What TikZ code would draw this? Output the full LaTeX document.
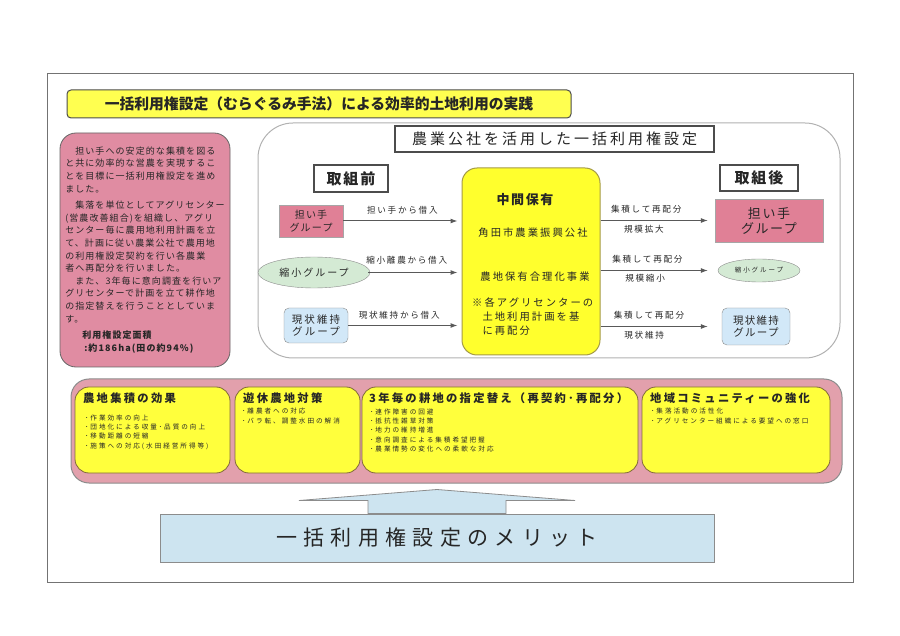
\documentclass[tikz,border=0pt]{standalone}
\usepackage{fontspec}
\setmainfont{Noto Sans CJK JP}
\newfontfamily\spA[LetterSpace=12]{Noto Sans CJK JP}
\newfontfamily\spB[LetterSpace=20]{Noto Sans CJK JP}
\newfontfamily\spC[LetterSpace=30]{Noto Sans CJK JP}
\usetikzlibrary{positioning,arrows.meta,shapes.geometric}

\definecolor{titleyel}{RGB}{255,255,80}
\definecolor{memopink}{RGB}{224,140,162}
\definecolor{hubyel}{RGB}{255,255,45}
\definecolor{hubline}{RGB}{165,155,70}
\definecolor{grppink}{RGB}{224,128,150}
\definecolor{grpgreen}{RGB}{212,234,212}
\definecolor{grpblue}{RGB}{210,232,248}
\definecolor{bandpink}{RGB}{226,160,172}
\definecolor{effyel}{RGB}{255,255,60}
\definecolor{effline}{RGB}{130,105,60}
\definecolor{meritblue}{RGB}{205,228,240}

\begin{document}
\begin{tikzpicture}[x=1pt,y=-1pt,text=black!85,
        frame/.style={draw=black!55, line width=0.8pt},
        titlebox/.style={draw=black!70, fill=titleyel, rounded corners=4pt, line width=1pt, inner sep=0pt, font=\bfseries\fontsize{14.8}{16}\selectfont},
        memo/.style={draw=black!60, fill=memopink, rounded corners=16pt, line width=0.8pt, inner sep=0pt, align=left, font=\spA\fontsize{9}{12.6}\selectfont},
        panel/.style={draw=black!30, fill=white, rounded corners=35pt, line width=1pt},
        headbox/.style={draw=black!70, fill=white, line width=2.2pt, inner sep=0pt},
        hubbox/.style={draw=hubline, fill=hubyel, rounded corners=15pt, line width=1pt},
        hubtxt/.style={font=\spB\fontsize{10.3}{13.7}\selectfont, align=left, inner sep=0pt},
        pinkgrp/.style={draw=black!35, fill=grppink, align=center, inner sep=0pt},
        greengrp/.style={ellipse, draw=black!45, fill=grpgreen, inner sep=0pt},
        bluegrp/.style={draw=black!45, fill=grpblue, rounded corners=5pt, align=center, inner sep=0pt},
        flow/.style={-{Latex[length=7pt,width=5pt]}, draw=black!65, line width=1pt},
        lbl/.style={font=\spB\fontsize{8.6}{10}\selectfont, inner sep=0pt},
        band/.style={draw=black!45, fill=bandpink, rounded corners=18pt, line width=1pt},
        effbox/.style={draw=effline, fill=effyel, rounded corners=14pt, line width=0.8pt},
        effhead/.style={anchor=west, inner sep=0pt, font=\spB\bfseries\fontsize{11.3}{13}\selectfont},
        effitem/.style={anchor=north west, inner sep=0pt, align=left, font=\spC\fontsize{6.6}{9.3}\selectfont},
        merit/.style={draw=black!45, fill=meritblue, line width=1pt, inner sep=0pt, font=\spC\fontsize{21}{24}\selectfont}
    ]
        \useasboundingbox (0,0) rectangle (900,636);
        \draw[frame] (47,73) rectangle (853,582);

        \node[titlebox, minimum width=504pt, minimum height=28pt] (title) at (319,104) {一括利用権設定（むらぐるみ手法）による効率的土地利用の実践};

        \node[memo, minimum width=170pt, minimum height=234pt] (memo) at (145,250) {%
            　担い手への安定的な集積を図る\\
            と共に効率的な営農を実現するこ\\
            とを目標に一括利用権設定を進め\\
            ました。\\[4pt]
            　集落を単位としてアグリセンター\\
            (営農改善組合)を組織し、アグリ\\
            センター毎に農用地利用計画を立\\
            て、計画に従い農業公社で農用地\\
            の利用権設定契約を行い各農業\\
            者へ再配分を行いました。\\
            　また、3年毎に意向調査を行いア\\
            グリセンターで計画を立て耕作地\\
            の指定替えを行うこととしていま\\
            す。\\[4pt]
            \hspace*{17pt}{\bfseries 利用権設定面積}\\
            \hspace*{19pt}{\bfseries :約186ha(田の約94\%)}};

        % center panel
        \node[panel, minimum width=582pt, minimum height=235pt] (panel) at (549,240.5) {};
        \node[headbox, minimum width=319pt, minimum height=26pt, font=\spB\fontsize{15}{18}\selectfont] (head) at (554.5,139) {農業公社を活用した一括利用権設定};
        \node[headbox, minimum width=74pt, minimum height=27pt, font=\spA\bfseries\fontsize{15}{18}\selectfont] (before) at (351,178.5) {取組前};
        \node[headbox, minimum width=78pt, minimum height=26pt, font=\spA\bfseries\fontsize{15}{18}\selectfont] (after) at (759,178) {取組後};

        \node[hubbox, minimum width=138pt, minimum height=187pt] (hub) at (531,261.5) {};
        \node[hubtxt, font=\spA\bfseries\fontsize{13}{15}\selectfont] (hubttl) at (525,200) {中間保有};
        \node[hubtxt] (hubkosha) at (533,233) {角田市農業振興公社};
        \node[hubtxt] (hubjigyo) at (535,277) {農地保有合理化事業};
        \node[hubtxt, anchor=north west] (hubnote) at (472,298) {※各アグリセンターの\\\phantom{※}土地利用計画を基\\\phantom{※}に再配分};

        \node[pinkgrp, minimum width=64pt, minimum height=32pt, font=\spA\fontsize{10}{13}\selectfont] (ninaiL) at (311,221) {担い手\\グループ};
        \node[greengrp, minimum width=112pt, minimum height=31pt, font=\spB\fontsize{10}{12}\selectfont] (shukuL) at (314,272.5) {縮小グループ};
        \node[bluegrp, minimum width=64pt, minimum height=35pt, font=\spB\fontsize{10.5}{12}\selectfont] (genjoL) at (316,325.5) {現状維持\\グループ};

        \node[pinkgrp, minimum width=108pt, minimum height=43pt, font=\spA\fontsize{13}{15}\selectfont] (ninaiR) at (769,220.5) {担い手\\グループ};
        \node[greengrp, minimum width=82pt, minimum height=23pt, font=\spC\fontsize{6.5}{8}\selectfont] (shukuR) at (759,270.5) {縮小グループ};
        \node[bluegrp, minimum width=68pt, minimum height=37pt, font=\spA\fontsize{10.5}{12}\selectfont] (genjoR) at (756,326.5) {現状維持\\グループ};

        \draw[flow, shorten >=4pt] (ninaiL.east) -- node[lbl, above=6pt] (lbin1) {担い手から借入} (hub.west |- ninaiL);
        \draw[flow, shorten >=4pt, shorten <=-2pt] (shukuL.east) -- node[lbl, above=8pt, pos=0.4] (lbin2) {縮小離農から借入} (hub.west |- shukuL);
        \draw[flow, shorten >=4pt] (genjoL.east) -- node[lbl, above=6pt, pos=0.45] (lbin3) {現状維持から借入} (hub.west |- genjoL);

        \draw[flow, shorten >=7pt] (hub.east |- ninaiR) -- node[lbl, above=7pt, pos=0.4] (lbout1) {集積して再配分} node[lbl, below=4pt, pos=0.38] (lbsub1) {規模拡大} (ninaiR.west);
        \draw[flow, shorten >=10pt] (hub.east |- shukuR) -- node[lbl, above=7pt, pos=0.4] (lbout2) {集積して再配分} node[lbl, below=3pt, pos=0.38] (lbsub2) {規模縮小} (shukuR.west);
        \draw[flow, shorten >=14pt] (hub.east |- genjoR) -- node[lbl, above=7pt, pos=0.4] (lbout3) {集積して再配分} node[lbl, below=4pt, pos=0.36] (lbsub3) {現状維持} (genjoR.west);

        % merits
        \node[band, minimum width=771pt, minimum height=104pt] (band) at (456.5,431) {};
        \node[effbox, minimum width=155pt, minimum height=86pt] (eff1) at (152.5,430) {};
        \node[effbox, minimum width=125pt, minimum height=86pt] (eff2) at (297.5,430) {};
        \node[effbox, minimum width=276pt, minimum height=86pt] (eff3) at (500,430) {};
        \node[effbox, minimum width=188pt, minimum height=86pt] (eff4) at (736,430) {};

        \node[effhead] (head1) at (83,398) {農地集積の効果};
        \node[effhead] (head2) at (243,398) {遊休農地対策};
        \node[effhead] (head3) at (369,398) {3年毎の耕地の指定替え（再契約･再配分）};
        \node[effhead] (head4) at (650,398) {地域コミュニティーの強化};

        \node[effitem] (item1) at (85,414.5) {･作業効率の向上\\･団地化による収量･品質の向上\\･移動距離の短縮\\･施策への対応(水田経営所得等)};
        \node[effitem] (item2) at (242,408) {･離農者への対応\\･バラ転、調整水田の解消};
        \node[effitem] (item3) at (370,408.5) {･連作障害の回避\\･抵抗性雑草対策\\･地力の維持増進\\･意向調査による集積希望把握\\･農業情勢の変化への柔軟な対応};
        \node[effitem] (item4) at (651,408) {･集落活動の活性化\\･アグリセンター組織による要望への窓口};

        \node[merit, minimum width=554pt, minimum height=48pt] (merit) at (437,538) {一括利用権設定のメリット};
        \draw[draw=black!45, fill=meritblue, line width=0.8pt] ([xshift=-69pt]merit.north) -- ++(0,-13) -- ++(-69,0) -- ([yshift=24pt]merit.north) -- ++(138,11) -- ++(-69,0) -- ++(0,13) -- cycle;
\end{tikzpicture}
\end{document}
